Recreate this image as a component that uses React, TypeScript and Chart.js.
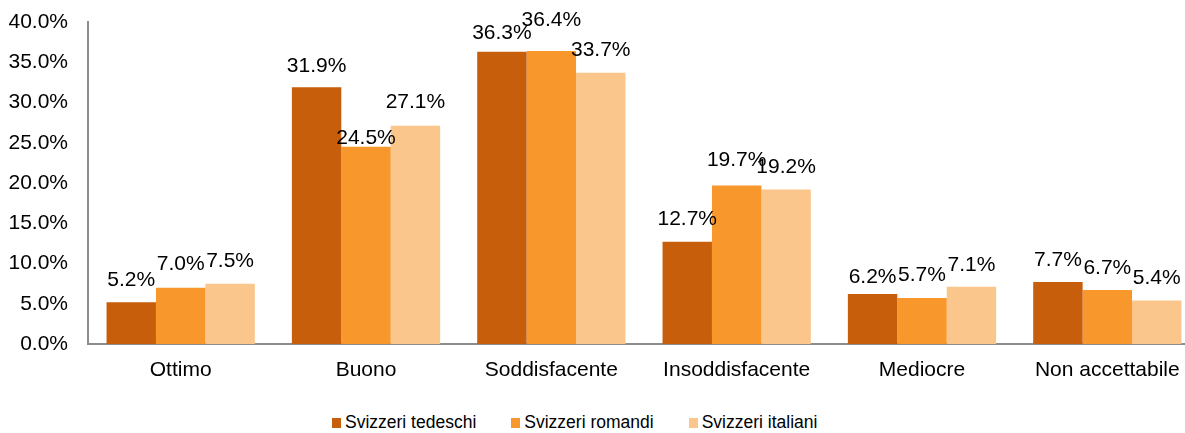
import React, { useEffect, useRef } from "react";
import { Chart, registerables } from "chart.js";

Chart.register(...registerables);

const categories = ["Ottimo", "Buono", "Soddisfacente", "Insoddisfacente", "Mediocre", "Non accettabile"];
const tedeschi = [5.2, 31.9, 36.3, 12.7, 6.2, 7.7];
const romandi = [7.0, 24.5, 36.4, 19.7, 5.7, 6.7];
const italiani = [7.5, 27.1, 33.7, 19.2, 7.1, 5.4];
const seriesNames = ["Svizzeri tedeschi", "Svizzeri romandi", "Svizzeri italiani"];
const seriesColors = ["#C65E0C", "#F8982C", "#FBC68B"];
const yTicks = [0, 5, 10, 15, 20, 25, 30, 35, 40];
// gap (px) between bar top and label baseline, per series, per category
const labelGaps = [
  [16, 15, 13, 17, 11, 16],
  [18, 3, 25, 19, 17, 16],
  [17, 18, 17, 16, 16, 17],
];

const FONT = "'Liberation Sans', Arial, sans-serif";

const dataLabels = {
  id: "dataLabels",
  afterDatasetsDraw(chart: any) {
    const ctx = chart.ctx;
    ctx.save();
    ctx.font = `21px ${FONT}`;
    ctx.fillStyle = "#000";
    ctx.textAlign = "center";
    ctx.textBaseline = "alphabetic";
    chart.data.datasets.forEach((ds: any, i: number) => {
      const meta = chart.getDatasetMeta(i);
      meta.data.forEach((bar: any, j: number) => {
        ctx.fillText(ds.data[j].toFixed(1) + "%", bar.x, bar.y - labelGaps[i][j]);
      });
    });
    ctx.restore();
  },
};

export default function App() {
  const ref = useRef<HTMLCanvasElement>(null);
  useEffect(() => {
    if (!ref.current) return;
    const chart = new Chart(ref.current, {
      type: "bar",
      data: {
        labels: categories,
        datasets: [tedeschi, romandi, italiani].map((d, i) => ({
          label: seriesNames[i],
          data: d,
          backgroundColor: seriesColors[i],
          borderWidth: 0,
          categoryPercentage: 0.8,
          barPercentage: 1.0,
        })),
      },
      options: {
        responsive: false,
        animation: false,
        layout: { padding: { top: 22, left: 0, right: 0, bottom: 0 } },
        plugins: { legend: { display: false }, tooltip: { enabled: false } },
        scales: {
          x: {
            grid: { display: false, drawTicks: false },
            border: { display: true, color: "#8C8C8C", width: 2 },
            ticks: { color: "#000", font: { family: FONT, size: 21 }, padding: 14, maxRotation: 0, autoSkip: false },
            afterFit: (s: any) => { s.height = 46; s.paddingLeft = 0; s.paddingRight = 0; },
          },
          y: {
            min: 0,
            max: 40,
            grid: { display: false, drawTicks: false },
            border: { display: true, color: "#8C8C8C", width: 2 },
            afterBuildTicks: (s: any) => { s.ticks = yTicks.map((v) => ({ value: v })); },
            ticks: {
              color: "#000",
              font: { family: FONT, size: 21 },
              padding: 20,
              callback: (v: any) => Number(v).toFixed(1) + "%",
            },
            afterFit: (s: any) => { s.width = 88; s.paddingTop = 0; s.paddingBottom = 0; },
          },
        },
      },
      plugins: [dataLabels],
    });
    return () => chart.destroy();
  }, []);

  return (
    <div style={{ position: "fixed", left: 0, top: 0, width: 1185, height: 433, overflow: "hidden", background: "#fff" }}>
      <canvas ref={ref} width={1200} height={390} style={{ width: 1200, height: 390, display: "block" }} />
      <div
        style={{
          position: "absolute",
          left: 332,
          top: 412,
          display: "flex",
          gap: 35,
          fontFamily: FONT,
          fontSize: 17.5,
          color: "#000",
          whiteSpace: "nowrap",
        }}
      >
        {seriesNames.map((n, i) => (
          <div key={n} style={{ display: "flex", alignItems: "center" }}>
            <span style={{ display: "inline-block", width: 9, height: 10, background: seriesColors[i], marginRight: 4 }} />
            <span>{n}</span>
          </div>
        ))}
      </div>
    </div>
  );
}
